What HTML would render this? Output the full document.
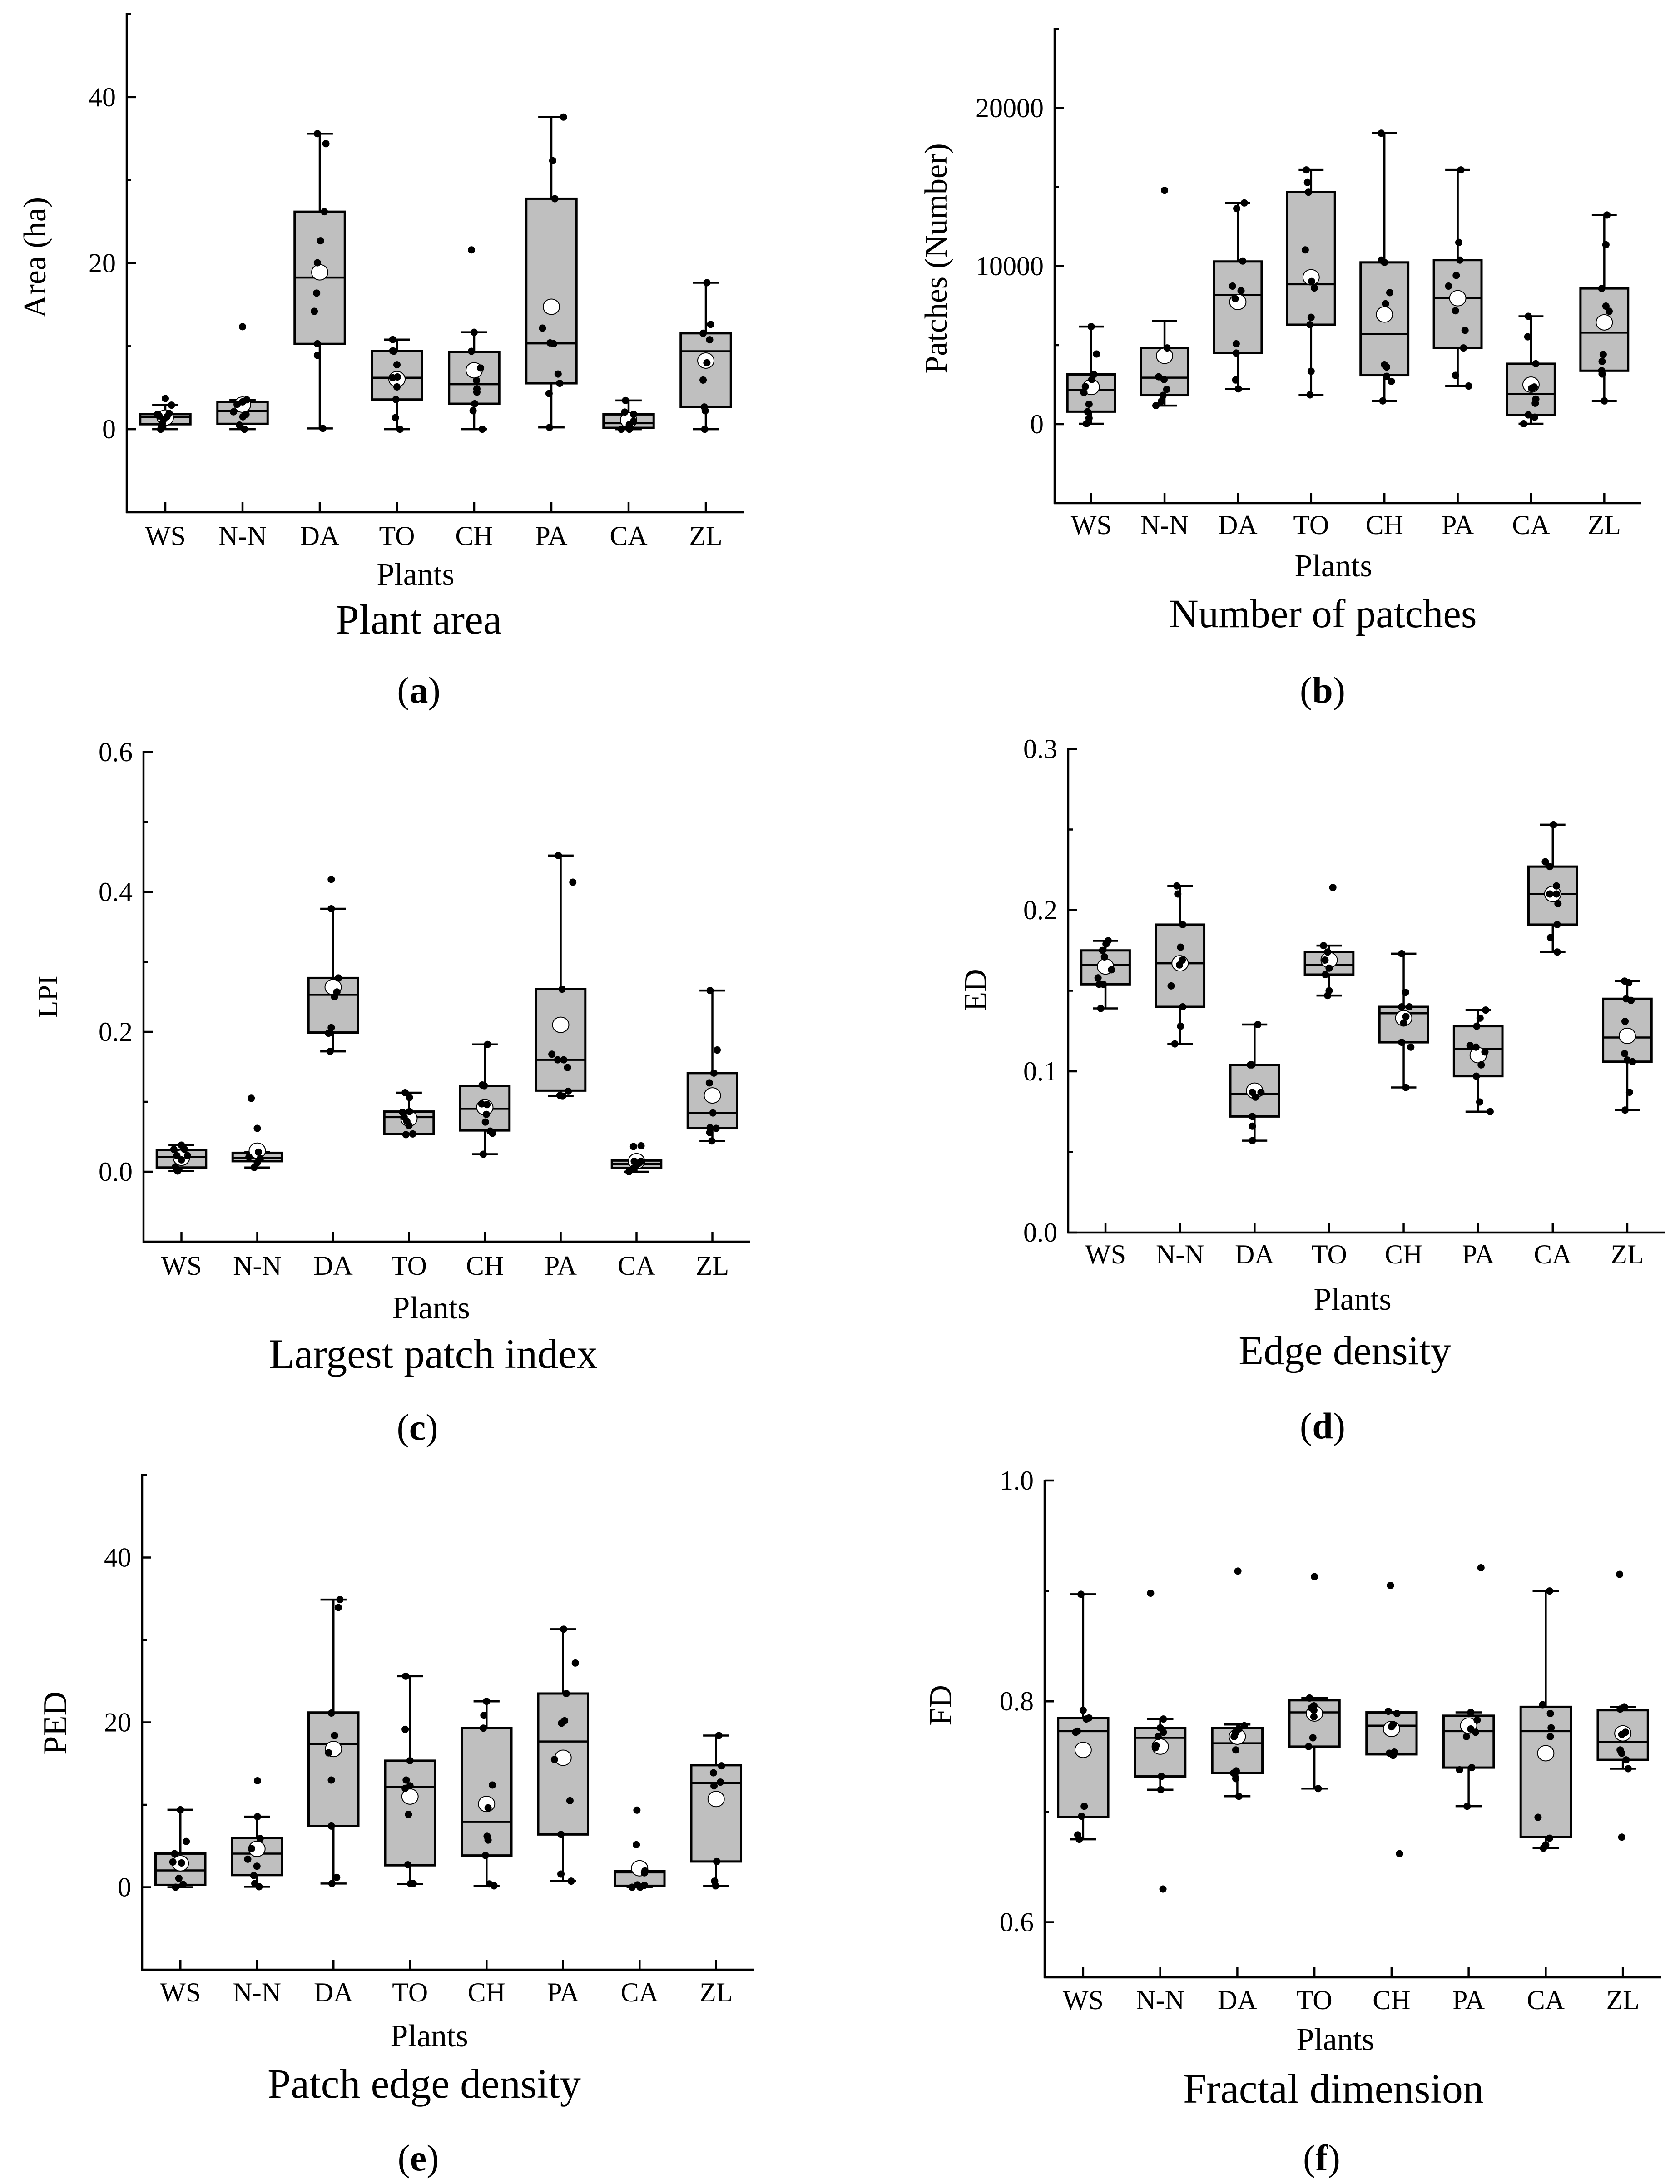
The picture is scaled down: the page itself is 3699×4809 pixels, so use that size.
<!DOCTYPE html>
<html lang="en">
<head>
<meta charset="utf-8">
<title>Landscape metrics by plant</title>
<style>
html,body{margin:0;padding:0;background:#fff}
svg{display:block}
text{font-family:"Liberation Serif",serif;fill:#000}
.ax{font-size:70px}
.ti{font-size:92px}
.cap{font-size:82px}
.ytitle{font-size:70px}
</style>
</head>
<body>
<svg id="figure" xmlns="http://www.w3.org/2000/svg" width="3699" height="4809" viewBox="0 0 3699 4809">
<rect x="0" y="0" width="3699" height="4809" fill="#fff"/>
<g id="panel-a">
<text class="ytitle" text-anchor="middle" transform="translate(100,567) rotate(-90)">Area (ha)</text>
<text class="ax" text-anchor="middle" x="915" y="1288">Plants</text>
<text class="ti" text-anchor="middle" x="922" y="1395">Plant area</text>
<text class="cap" text-anchor="middle" x="922" y="1547">(<tspan font-weight="bold">a</tspan>)</text>
</g>
<g id="panel-b">
<text class="ytitle" text-anchor="middle" transform="translate(2084,569) rotate(-90)">Patches (Number)</text>
<text class="ax" text-anchor="middle" x="2936" y="1269">Plants</text>
<text class="ti" text-anchor="middle" x="2913" y="1381" style="font-size:89px">Number of patches</text>
<text class="cap" text-anchor="middle" x="2912" y="1547">(<tspan font-weight="bold">b</tspan>)</text>
</g>
<g id="panel-c">
<text class="ytitle" text-anchor="middle" transform="translate(126,2195) rotate(-90)" style="font-size:62px">LPI</text>
<text class="ax" text-anchor="middle" x="949" y="2903">Plants</text>
<text class="ti" text-anchor="middle" x="954" y="3012">Largest patch index</text>
<text class="cap" text-anchor="middle" x="919" y="3170">(<tspan font-weight="bold">c</tspan>)</text>
</g>
<g id="panel-d">
<text class="ytitle" text-anchor="middle" transform="translate(2171,2180) rotate(-90)">ED</text>
<text class="ax" text-anchor="middle" x="2978" y="2884">Plants</text>
<text class="ti" text-anchor="middle" x="2961" y="3004" style="font-size:90px">Edge density</text>
<text class="cap" text-anchor="middle" x="2912" y="3167">(<tspan font-weight="bold">d</tspan>)</text>
</g>
<g id="panel-e">
<text class="ytitle" text-anchor="middle" transform="translate(146,3794) rotate(-90)" style="font-size:74px">PED</text>
<text class="ax" text-anchor="middle" x="945" y="4506">Plants</text>
<text class="ti" text-anchor="middle" x="934" y="4619">Patch edge density</text>
<text class="cap" text-anchor="middle" x="921" y="4779">(<tspan font-weight="bold">e</tspan>)</text>
</g>
<g id="panel-f">
<text class="ytitle" text-anchor="middle" transform="translate(2094,3755) rotate(-90)">FD</text>
<text class="ax" text-anchor="middle" x="2940" y="4514">Plants</text>
<text class="ti" text-anchor="middle" x="2936" y="4630">Fractal dimension</text>
<text class="cap" text-anchor="middle" x="2910" y="4779">(<tspan font-weight="bold">f</tspan>)</text>
</g>
</svg>
<script>
const categories = ["WS","N-N","DA","TO","CH","PA","CA","ZL"];

/* (a) Plant area */
const areaMajorTicks = [0,20,40];
const areaMinorTicks = [10,30,50];
const areaTickLabels = ["0","20","40"];
const areaLow = [0,0,0.1,0,0,0.22,0,0];
const areaQ1 = [0.6,0.65,10.28,3.58,3.07,5.53,0.17,2.68];
const areaMedian = [1.5,2.19,18.27,6.2,5.42,10.34,0.73,9.39];
const areaQ3 = [1.82,3.28,26.2,9.44,9.33,27.77,1.79,11.56];
const areaHigh = [2.9,3.55,35.6,10.8,11.68,37.6,3.46,17.65];
const areaMean = [1.4,2.96,18.9,6.03,7.1,14.75,1.1,8.27];
const areaDots = [
 [3.7,2.9,1.8,1.6,1.5,1.9,1.2,0.7,0.3,0],
 [12.35,3.55,3.3,3.0,2.1,1.8,1.5,0.5,0],
 [35.6,34.4,26.2,22.7,20.05,16.4,14.2,10.3,8.9,0.1],
 [10.8,9.44,9.4,7.77,6.2,6.3,5.1,3.58,1.4,0],
 [21.6,11.68,9.39,7.37,5.87,4.86,4.47,3.07,2.23,0],
 [37.6,32.35,27.77,12.18,10.4,10.3,6.65,5.53,4.3,0.22],
 [3.46,2.07,1.79,0.95,0.56,0,0,0.2],
 [17.65,12.63,11.56,10.78,8,5.92,2.68,2.23,0]
];
const areaJitter = [
 [0,.08,-.1,-.08,.02,.05,-.02,-.04,-.05,-.06],
 [0,.055,0,-.07,-.117,.045,.005,-.04,.025],
 [-.03,.08,.06,.01,-.03,-.04,-.07,-.03,-.03,.04],
 [-.055,-.055,-.04,0,-.055,.007,0,-.014,-.02,.04],
 [-.035,0,-.035,.083,.03,.035,.035,.007,-.014,.104],
 [.156,.017,.045,-.115,-.017,.03,.087,.108,-.03,-.024],
 [-.04,-.05,.065,.065,.01,-.095,.01,0],
 [.014,.062,-.035,.05,.014,-.035,-.02,-.007,-.014]
];

/* (b) Number of patches */
const patchMajorTicks = [0,10000,20000];
const patchMinorTicks = [5000,15000,25000];
const patchTickLabels = ["0","10000","20000"];
const patchLow = [29,1176,2235,1853,1471,2412,29,1471];
const patchQ1 = [794,1824,4500,6294,3088,4824,588,3382];
const patchMedian = [2176,2941,8176,8853,5706,7970,1912,5794];
const patchQ3 = [3147,4824,10294,14676,10235,10382,3824,8588];
const patchHigh = [6176,6529,14000,16088,18412,16088,6824,13235];
const patchMean = [2353,4324,7735,9294,6941,7970,2500,6441];
const patchDots = [
 [6176,4441,3147,2824,2382,2000,1265,794,382,29],
 [14794,4824,3000,2824,2206,1824,1441,1176],
 [14000,13647,10324,8735,8441,7941,5088,4500,2794,2235],
 [16088,15294,14676,11029,9029,8618,6765,6294,3353,1853],
 [18412,10382,10235,8324,7618,3765,3618,3029,2706,1471],
 [16088,11500,10382,9412,8735,7176,5941,4824,3088,2412],
 [6824,5529,3824,2353,2265,1588,1324,588,441,29],
 [13235,11353,8588,7470,7147,4412,3971,3382,3176,1471]
];
const patchJitter = [
 [0,.073,.036,.007,-.08,-.1,-.03,-.05,-.03,-.066],
 [0,.036,-.08,-.007,.03,-.02,-.044,-.117],
 [.088,-.015,.066,-.073,.044,-.036,-.022,-.022,-.03,.007],
 [-.066,-.05,-.036,-.08,.007,.044,0,-.015,0,-.015],
 [-.044,-.044,0,.073,.015,0,.03,.03,.095,-.022],
 [.044,.015,.03,-.02,-.124,-.03,.1,.08,-.03,.15],
 [-.036,-.044,.066,.044,.007,.066,.058,-.036,.05,-.1],
 [.036,.022,-.036,.022,.066,-.015,-.03,-.036,-.03,0]
];

/* (c) Largest patch index */
const lpiMajorTicks = [0,0.2,0.4,0.6];
const lpiMinorTicks = [0.1,0.3,0.5];
const lpiTickLabels = ["0.0","0.2","0.4","0.6"];
const lpiLow = [0.001,0.006,0.172,0.054,0.025,0.108,0,0.044];
const lpiQ1 = [0.006,0.015,0.199,0.054,0.059,0.116,0.005,0.062];
const lpiMedian = [0.021,0.02,0.253,0.078,0.09,0.16,0.011,0.084];
const lpiQ3 = [0.031,0.027,0.277,0.086,0.123,0.261,0.016,0.141];
const lpiHigh = [0.038,0.028,0.376,0.113,0.182,0.452,0.016,0.259];
const lpiMean = [0.02,0.03,0.264,0.076,0.092,0.21,0.015,0.109];
const lpiDots = [
 [0.038,0.032,0.023,0.023,0.017,0.032,0.001,0.007],
 [0.105,0.062,0.028,0.021,0.019,0.013,0.006],
 [0.418,0.376,0.277,0.257,0.25,0.206,0.199,0.198,0.172],
 [0.113,0.106,0.086,0.085,0.078,0.072,0.066,0.053,0.054],
 [0.182,0.124,0.123,0.097,0.096,0.082,0.071,0.058,0.055,0.025],
 [0.452,0.414,0.261,0.168,0.16,0.16,0.149,0.115,0.109,0.108],
 [0.036,0.037,0.015,0.013,0.015,0.01,0.005,0,0.008,0.012],
 [0.259,0.174,0.141,0.127,0.084,0.063,0.062,0.056,0.044]
];
const lpiJitter = [
 [0,-.1,-.06,.08,0,.04,-.05,-.08],
 [-.08,0,.015,-.11,.04,0,-.04],
 [-.025,-.025,.07,.05,.018,-.025,-.04,-.06,-.04],
 [-.05,.007,.007,-.085,-.064,-.028,0,-.04,.05],
 [.035,-.035,-.007,-.042,.028,.02,.007,.07,.1,-.02],
 [-.03,.16,.018,-.116,-.04,.04,.09,.1,-.01,.025],
 [-.04,.06,-.03,.04,.06,0,-.04,-.1,-.01,.03],
 [-.03,.063,.02,-.04,.007,-.03,.05,-.035,-.007]
];

/* (d) Edge density */
const edMajorTicks = [0,0.1,0.2,0.3];
const edMinorTicks = [0.05,0.15,0.25];
const edTickLabels = ["0.0","0.1","0.2","0.3"];
const edLow = [0.139,0.117,0.057,0.147,0.09,0.075,0.174,0.076];
const edQ1 = [0.154,0.14,0.072,0.16,0.118,0.097,0.191,0.106];
const edMedian = [0.166,0.167,0.086,0.166,0.136,0.114,0.21,0.121];
const edQ3 = [0.175,0.191,0.104,0.174,0.14,0.128,0.227,0.145];
const edHigh = [0.181,0.215,0.129,0.178,0.173,0.138,0.253,0.156];
const edMean = [0.165,0.167,0.088,0.169,0.133,0.11,0.21,0.122];
const edDots = [
 [0.181,0.179,0.175,0.171,0.163,0.158,0.154,0.154,0.139],
 [0.215,0.21,0.191,0.177,0.169,0.166,0.153,0.14,0.128,0.117],
 [0.129,0.104,0.104,0.087,0.087,0.084,0.072,0.066,0.057],
 [0.214,0.178,0.174,0.169,0.164,0.16,0.15,0.147],
 [0.173,0.149,0.14,0.14,0.134,0.13,0.118,0.115,0.09],
 [0.138,0.133,0.128,0.116,0.115,0.112,0.104,0.097,0.081,0.075],
 [0.253,0.23,0.227,0.215,0.21,0.21,0.204,0.191,0.183,0.174],
 [0.156,0.155,0.145,0.144,0.131,0.111,0.107,0.106,0.087,0.076]
];
const edJitter = [
 [.036,.007,-.04,-.014,.08,-.1,-.086,-.03,-.064],
 [-.043,-.03,.036,.007,.03,-.007,-.12,.036,.007,-.07],
 [.043,-.057,-.036,.086,-.03,.014,-.03,-.03,-.03],
 [.05,-.075,-.02,-.055,0,-.05,0,-.02],
 [-.026,.026,-.026,.075,.03,0,-.026,.096,.03],
 [.1,.025,-.02,-.11,-.03,.09,.04,-.025,.02,.16],
 [.01,-.1,-.04,.05,-.04,.05,.07,.06,-.03,.06],
 [-.036,.02,-.014,.05,-.03,-.036,0,.07,.03,-.03]
];

/* (e) Patch edge density */
const pedMajorTicks = [0,20,40];
const pedMinorTicks = [10,30,50];
const pedTickLabels = ["0","20","40"];
const pedLow = [0,0.06,0.45,0.4,0.17,0.74,0,0.17];
const pedQ1 = [0.28,1.47,7.42,2.66,3.85,6.4,0.17,3.12];
const pedMedian = [2.04,4.08,17.34,12.18,7.93,17.68,1.8,12.63];
const pedQ3 = [4.08,5.95,21.2,15.35,19.3,23.5,1.98,14.8];
const pedHigh = [9.4,8.56,34.9,25.6,22.55,31.3,1.98,18.4];
const pedMean = [2.9,4.65,16.77,11,10.1,15.7,2.3,10.7];
const pedDots = [
 [9.4,5.55,4.08,3.06,2.95,1.08,0.34,0],
 [12.92,8.56,5.9,4.7,3.4,2.55,1.42,0.45,0.06],
 [34.9,33.94,21.13,18.4,16.3,13,7.42,1.19,0.45],
 [25.6,19.15,15.35,13,12.3,12,8.84,2.72,0.45,0.45],
 [22.55,20.85,19.3,12.4,9.63,6.18,5.72,3.85,0.4,0.17],
 [31.3,27.2,23.5,20.2,19.9,15.5,10.5,6.4,1.6,0.74],
 [9.35,5.16,1.98,1.75,0.23,0.28,0,0],
 [18.4,14.73,13.88,12.75,12.3,3.12,0.74,0.17]
];
const pedJitter = [
 [0,.077,-.077,-.098,.014,-.02,.035,-.063],
 [.007,.007,.042,-.07,-.12,0,-.042,-.028,.028],
 [.084,.063,-.028,.014,-.063,-.028,-.028,.042,-.02],
 [-.056,-.063,0,-.05,0,-.063,-.02,-.028,.007,.042],
 [0,-.035,-.042,.077,.02,.007,.02,-.014,.035,.098],
 [.007,.16,.042,.02,-.02,-.112,.09,-.028,-.028,.105],
 [-.035,-.042,.07,.063,.063,-.028,-.098,.007],
 [.035,.07,-.035,.056,-.028,.007,-.02,-.007]
];

/* (f) Fractal dimension */
const fdMajorTicks = [0.6,0.8,1.0];
const fdMinorTicks = [0.7,0.9];
const fdTickLabels = ["0.6","0.8","1.0"];
const fdLow = [0.675,0.72,0.714,0.721,0.752,0.705,0.667,0.739];
const fdQ1 = [0.695,0.732,0.735,0.759,0.752,0.74,0.677,0.747];
const fdMedian = [0.773,0.767,0.762,0.79,0.778,0.773,0.773,0.763];
const fdQ3 = [0.785,0.776,0.776,0.801,0.79,0.787,0.795,0.792];
const fdHigh = [0.897,0.784,0.779,0.803,0.79,0.79,0.9,0.795];
const fdMean = [0.756,0.759,0.768,0.789,0.775,0.778,0.753,0.771];
const fdDots = [
 [0.897,0.792,0.784,0.785,0.772,0.773,0.705,0.696,0.679,0.675],
 [0.898,0.784,0.776,0.772,0.768,0.76,0.758,0.732,0.72,0.63],
 [0.918,0.778,0.775,0.771,0.768,0.756,0.737,0.735,0.73,0.714],
 [0.913,0.803,0.796,0.792,0.786,0.767,0.759,0.721,0.794],
 [0.905,0.791,0.789,0.777,0.779,0.753,0.754,0.751,0.662],
 [0.921,0.79,0.783,0.775,0.772,0.768,0.74,0.738,0.705],
 [0.9,0.797,0.789,0.776,0.768,0.695,0.676,0.67,0.667],
 [0.915,0.795,0.793,0.772,0.77,0.756,0.753,0.747,0.739,0.677]
];
const fdJitter = [
 [-.028,0,.04,.076,-.097,-.076,.014,-.02,-.07,-.05],
 [-.125,.04,0,.04,-.028,-.055,-.063,.014,.007,.035],
 [.007,.09,.02,-.028,-.042,-.02,-.014,-.05,-.02,.02],
 [0,-.063,-.007,-.007,-.007,-.02,-.076,.049,-.04],
 [-.014,-.042,.07,0,.02,-.028,.035,.02,.104],
 [.16,.028,.11,.028,.09,-.028,.04,-.118,-.02],
 [.05,-.04,.06,.07,.06,-.1,.05,0,-.03],
 [-.042,.02,-.035,.035,-.014,-.035,-.014,.042,.07,-.014]
];

const NS = "http://www.w3.org/2000/svg";
const BOX_FILL = "#bfbfbf";

function shape(parent, tag, attrs) {
  const el = document.createElementNS(NS, tag);
  for (const k in attrs) el.setAttribute(k, attrs[k]);
  parent.appendChild(el);
  return el;
}

function drawPanel(p) {
  const root = document.getElementById("panel-" + p.id);
  const band = (p.right - p.left) / categories.length;
  const xScale = i => p.left + band * (i + 0.5);
  const yScale = v => p.bottom - (v - p.domain[0]) / (p.domain[1] - p.domain[0]) * (p.bottom - p.top);
  const line = {stroke: "#000", "stroke-width": 4.5, fill: "none"};

  categories.forEach((name, i) => {
    const cx = xScale(i);
    const g = shape(root, "g", {});
    
    

    const whisker = shape(g, "path", Object.assign({d:
      "M" + cx + " " + yScale(p.high[i]) + "V" + yScale(p.q3[i]) +
      "M" + cx + " " + yScale(p.q1[i]) + "V" + yScale(p.low[i]) +
      "M" + (cx - band * .17) + " " + yScale(p.high[i]) + "H" + (cx + band * .17) +
      "M" + (cx - band * .17) + " " + yScale(p.low[i]) + "H" + (cx + band * .17)}, line));
    
    

    const box = shape(g, "rect", {x: cx - band * .325, y: yScale(p.q3[i]), width: band * .65,
      height: Math.max(0, yScale(p.q1[i]) - yScale(p.q3[i])), fill: BOX_FILL, stroke: "#000", "stroke-width": 5});
    
    

    const med = shape(g, "line", Object.assign({x1: cx - band * .325, x2: cx + band * .325,
      y1: yScale(p.median[i]), y2: yScale(p.median[i])}, line));
    
    

    const mean = shape(g, "ellipse", {cx: cx, cy: yScale(p.mean[i]), rx: 18, ry: 17, fill: "#fff", stroke: "#000", "stroke-width": 2});
    
    

    p.dots[i].forEach((v, j) => {
      const dot = shape(g, "circle", {cx: cx + (p.jitter[i][j] || 0) * band, cy: yScale(v), r: 8, fill: "#000"});
      
      
    });

    const tick = shape(root, "line", Object.assign({x1: cx, x2: cx, y1: p.bottom, y2: p.bottom - 22}, line));
    
    

    const label = shape(root, "text", {x: cx, y: p.catBase, "text-anchor": "middle", "font-size": 60});
    label.textContent = name;
    
    
  });

  p.major.forEach((v, i) => {
    const tick = shape(root, "line", Object.assign({x1: p.left, x2: p.left + 20, y1: yScale(v), y2: yScale(v)}, line));
    
    
    const label = shape(root, "text", {x: p.left - 24, y: yScale(v) + 20, "text-anchor": "end", "font-size": 60});
    label.textContent = p.labels[i];
    
    
  });
  p.minor.forEach(v => {
    const tick = shape(root, "line", Object.assign({x1: p.left, x2: p.left + 10, y1: yScale(v), y2: yScale(v)}, line));
    
    
  });

  const yAxis = shape(root, "line", Object.assign({x1: p.left, x2: p.left, y1: p.top - 2, y2: p.bottom + 2}, line));
  
  
  const xAxis = shape(root, "line", Object.assign({x1: p.left - 2, x2: p.right, y1: p.bottom, y2: p.bottom}, line));
  
  
}

drawPanel({id:"a", left:279, right:1639, top:31, bottom:1128, domain:[-10,50], catBase:1200,
  major:areaMajorTicks, minor:areaMinorTicks, labels:areaTickLabels, low:areaLow, q1:areaQ1, median:areaMedian, q3:areaQ3, high:areaHigh, mean:areaMean, dots:areaDots, jitter:areaJitter});
drawPanel({id:"b", left:2322, right:3613, top:64, bottom:1108, domain:[-5000,25000], catBase:1176,
  major:patchMajorTicks, minor:patchMinorTicks, labels:patchTickLabels, low:patchLow, q1:patchQ1, median:patchMedian, q3:patchQ3, high:patchHigh, mean:patchMean, dots:patchDots, jitter:patchJitter});
drawPanel({id:"c", left:316, right:1652, top:1656, bottom:2734, domain:[-0.1,0.6], catBase:2807,
  major:lpiMajorTicks, minor:lpiMinorTicks, labels:lpiTickLabels, low:lpiLow, q1:lpiQ1, median:lpiMedian, q3:lpiQ3, high:lpiHigh, mean:lpiMean, dots:lpiDots, jitter:lpiJitter});
drawPanel({id:"d", left:2352, right:3665, top:1649, bottom:2714, domain:[0,0.3], catBase:2782,
  major:edMajorTicks, minor:edMinorTicks, labels:edTickLabels, low:edLow, q1:edQ1, median:edMedian, q3:edQ3, high:edHigh, mean:edMean, dots:edDots, jitter:edJitter});
drawPanel({id:"e", left:313, right:1661, top:3248, bottom:4337, domain:[-10,50], catBase:4407,
  major:pedMajorTicks, minor:pedMinorTicks, labels:pedTickLabels, low:pedLow, q1:pedQ1, median:pedMedian, q3:pedQ3, high:pedHigh, mean:pedMean, dots:pedDots, jitter:pedJitter});
drawPanel({id:"f", left:2300, right:3658, top:3260, bottom:4354, domain:[0.55,1.0], catBase:4424,
  major:fdMajorTicks, minor:fdMinorTicks, labels:fdTickLabels, low:fdLow, q1:fdQ1, median:fdMedian, q3:fdQ3, high:fdHigh, mean:fdMean, dots:fdDots, jitter:fdJitter});
</script>
</body>
</html>
